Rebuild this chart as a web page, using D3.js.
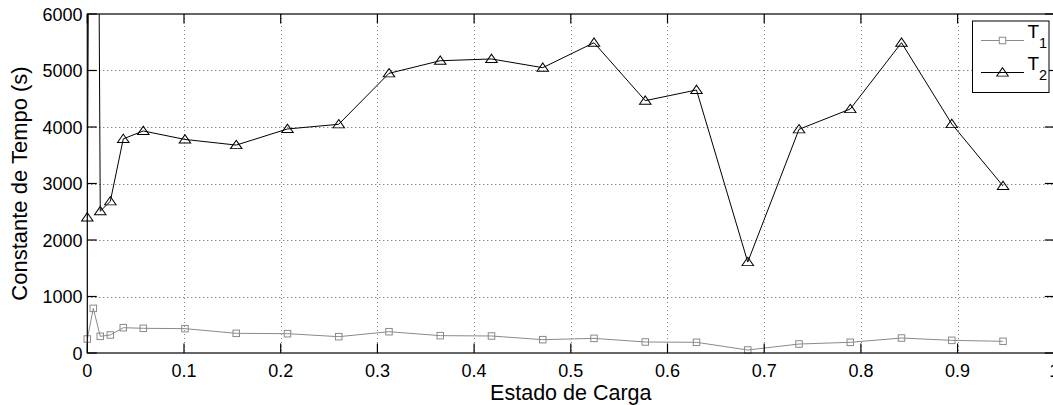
<!DOCTYPE html>
<html>
<head>
<meta charset="utf-8">
<script src="https://cdn.jsdelivr.net/npm/d3@7"></script>
<style>
  html, body { margin: 0; padding: 0; background: #fff; overflow: hidden; }
  svg { display: block; font-family: "Liberation Sans", Arial, Helvetica, sans-serif; }
</style>
</head>
<body>
<svg id="chart" width="1053" height="405"></svg>
<script>
// State of charge samples
const soc = [0, 0.0062, 0.0134, 0.0238, 0.0372, 0.0579, 0.101,
  0.154, 0.207, 0.260, 0.312, 0.365, 0.418, 0.471, 0.524, 0.577,
  0.630, 0.683, 0.736, 0.789, 0.842, 0.894, 0.947];

// Time constants (s)
const tau1 = [248, 790, 295, 319, 448, 437, 431,
  348, 342, 289, 377, 307, 301, 236, 259, 195,
  189, 53, 159, 189, 265, 224, 207];
const tau2 = [2400, 25000, 2510, 2685, 3790, 3930, 3780,
  3680, 3965, 4048, 4950, 5173, 5204, 5050, 5492, 4466,
  4655, 1610, 3959, 4318, 5492, 4053, 2956];

const xTicks = [0, 0.1, 0.2, 0.3, 0.4, 0.5, 0.6, 0.7, 0.8, 0.9, 1];
const yTicks = [0, 1000, 2000, 3000, 4000, 5000, 6000];
const seriesNames = ["1", "2"];

const svg = d3.select("#chart");
const pL = 87.3, pR = 1054.3, pT = 14, pB = 353;
const tickLen = 9.5;

const x = d3.scaleLinear().domain([0, 1]).range([pL, pR]);
const y = d3.scaleLinear().domain([0, 6000]).range([pB, pT]);

svg.append("defs").append("clipPath").attr("id", "plotClip")
  .append("rect").attr("x", pL).attr("y", pT)
  .attr("width", pR - pL).attr("height", pB - pT);

// grid
const grid = svg.append("g");
grid.selectAll("line.gx").data(xTicks.slice(1, -1)).join("line")
  .attr("x1", d => Math.round(x(d)) + 0.5).attr("x2", d => Math.round(x(d)) + 0.5)
  .attr("y1", pT).attr("y2", pB)
  .attr("stroke", "#888").attr("stroke-width", 1).attr("stroke-dasharray", "1,3");
grid.selectAll("line.gy").data(yTicks.slice(1, -1)).join("line")
  .attr("y1", d => Math.round(y(d)) + 0.5).attr("y2", d => Math.round(y(d)) + 0.5)
  .attr("x1", pL).attr("x2", pR)
  .attr("stroke", "#555").attr("stroke-width", 1).attr("stroke-dasharray", "1,3");

// series
const pts1 = soc.map((s, i) => [s, tau1[i]]);
const pts2 = soc.map((s, i) => [s, tau2[i]]);
const line = d3.line().x(d => x(d[0])).y(d => y(d[1]));

const plot = svg.append("g");
plot.append("path").datum(pts1).attr("clip-path", "url(#plotClip)")
  .attr("d", line).attr("fill", "none").attr("stroke", "#8a8a8a").attr("stroke-width", 1);
plot.append("path").datum(pts2).attr("clip-path", "url(#plotClip)")
  .attr("d", line).attr("fill", "none").attr("stroke", "#000").attr("stroke-width", 1);

const sq = 6.5;
plot.selectAll("rect.m1").data(pts1.filter(d => d[1] <= 6000)).join("rect")
  .attr("x", d => x(d[0]) - sq / 2).attr("y", d => y(d[1]) - sq / 2)
  .attr("width", sq).attr("height", sq)
  .attr("fill", "none").attr("stroke", "#8a8a8a").attr("stroke-width", 1);

const tri = d3.symbol().type(d3.symbolTriangle).size(40);
plot.selectAll("path.m2").data(pts2.filter(d => d[1] <= 6000)).join("path")
  .attr("transform", d => `translate(${x(d[0])},${y(d[1]) + 0.8}) scale(1.2,1)`)
  .attr("d", tri).attr("fill", "none").attr("stroke", "#000").attr("stroke-width", 0.9);

// axes box and ticks
const ax = svg.append("g").attr("stroke", "#000").attr("stroke-width", 1.2);
ax.append("rect").attr("x", pL).attr("y", pT)
  .attr("width", pR - pL).attr("height", pB - pT).attr("fill", "none");
xTicks.forEach(t => {
  ax.append("line").attr("x1", x(t)).attr("x2", x(t)).attr("y1", pB).attr("y2", pB - tickLen);
  ax.append("line").attr("x1", x(t)).attr("x2", x(t)).attr("y1", pT).attr("y2", pT + tickLen);
});
yTicks.forEach(t => {
  ax.append("line").attr("x1", pL).attr("x2", pL + tickLen).attr("y1", y(t)).attr("y2", y(t));
  ax.append("line").attr("x1", pR).attr("x2", pR - tickLen).attr("y1", y(t)).attr("y2", y(t));
});

// tick labels
svg.append("g").selectAll("text").data(xTicks).join("text")
  .attr("x", d => x(d)).attr("y", 376.5)
  .attr("text-anchor", "middle").attr("font-size", 18).attr("fill", "#000")
  .text(d => d3.format("")(d));
svg.append("g").selectAll("text").data(yTicks).join("text")
  .attr("x", 82.5).attr("y", d => y(d) + 6.5)
  .attr("text-anchor", "end").attr("font-size", 18).attr("fill", "#000")
  .text(d => d);

// axis titles
svg.append("text").attr("x", (pL + pR) / 2).attr("y", 399.5)
  .attr("text-anchor", "middle").attr("font-size", 21.5).text("Estado de Carga");
svg.append("text").attr("transform", `translate(27,${(pT + pB) / 2}) rotate(-90)`)
  .attr("text-anchor", "middle").attr("font-size", 22).text("Constante de Tempo (s)");

// legend
const lg = svg.append("g");
lg.append("rect").attr("x", 972.5).attr("y", 21).attr("width", 76.5).attr("height", 71.5)
  .attr("fill", "#fff").attr("stroke", "#000").attr("stroke-width", 1);
const rows = [
  { y: 40.5, color: "#8a8a8a", kind: "sq", name: seriesNames[0] },
  { y: 72.5, color: "#000", kind: "tri", name: seriesNames[1] }
];
rows.forEach(r => {
  lg.append("line").attr("x1", 981).attr("x2", 1024).attr("y1", r.y).attr("y2", r.y)
    .attr("stroke", r.color).attr("stroke-width", 1);
  if (r.kind === "sq") {
    lg.append("rect").attr("x", 1002.5 - sq / 2).attr("y", r.y - sq / 2)
      .attr("width", sq).attr("height", sq).attr("fill", "#fff")
      .attr("stroke", r.color).attr("stroke-width", 1);
  } else {
    lg.append("path").attr("transform", `translate(1002.5,${r.y + 0.8}) scale(1.2,1)`)
      .attr("d", tri).attr("fill", "none").attr("stroke", r.color).attr("stroke-width", 0.9);
  }
  const t = lg.append("text").attr("x", 1027.5).attr("y", r.y - 3).attr("font-size", 19).attr("fill", "#000");
  t.append("tspan").text("T");
  t.append("tspan").attr("dy", 10.5).attr("font-size", 14.5).text(r.name);
});
</script>
</body>
</html>
